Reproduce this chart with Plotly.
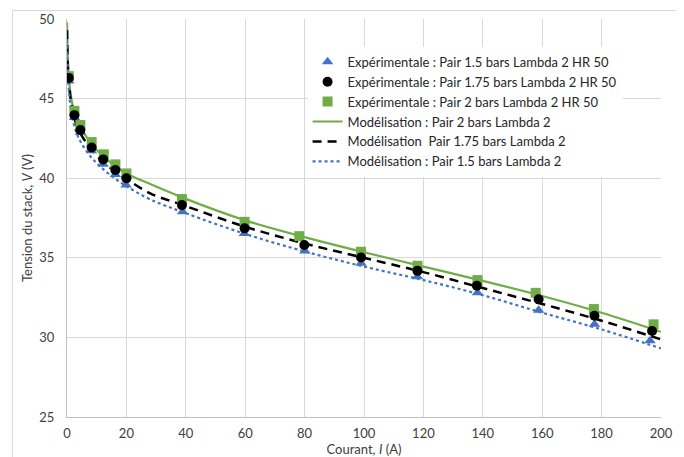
import plotly.graph_objects as go

# Experimental data
exp_15_x = [0.6, 2.5, 4.5, 8.2, 12.2, 16.3, 19.9, 38.9, 59.7, 80.1, 99.0, 118.0, 138.2, 158.8, 177.6, 196.3]
exp_15_v = [46.1, 43.82, 42.88, 41.72, 40.87, 40.24, 39.57, 37.89, 36.53, 35.42, 34.65, 33.81, 32.80, 31.71, 30.82, 29.79]

exp_175_x = [0.6, 2.5, 4.5, 8.3, 12.2, 16.3, 20.0, 38.7, 59.8, 79.9, 99.0, 118.0, 138.0, 158.8, 177.6, 197.0]
exp_175_v = [46.3, 43.96, 43.02, 41.93, 41.18, 40.51, 39.99, 38.31, 36.85, 35.80, 35.02, 34.18, 33.24, 32.39, 31.36, 30.40]

exp_2_x = [0.6, 2.5, 4.5, 8.3, 12.4, 16.3, 20.0, 38.7, 59.8, 78.2, 99.0, 118.0, 138.2, 157.8, 177.4, 197.5]
exp_2_v = [46.41, 44.23, 43.34, 42.27, 41.50, 40.87, 40.30, 38.69, 37.26, 36.36, 35.38, 34.50, 33.60, 32.80, 31.78, 30.82]

# Model curves
mod_x = [0.02, 0.2, 0.5, 1, 2, 4, 8, 12, 16, 20, 28, 40, 60, 80, 100, 120, 140, 160, 180, 200]
mod_2_v = [49.8, 48.0, 46.6, 45.6, 44.5, 43.4, 42.2, 41.4, 40.8, 40.3, 39.63, 38.7, 37.35, 36.3, 35.35, 34.45, 33.55, 32.6, 31.55, 30.35]
mod_175_v = [49.3, 47.6, 46.3, 45.3, 44.1, 43.0, 41.85, 41.05, 40.45, 39.95, 39.05, 38.25, 36.95, 35.9, 35.0, 34.1, 33.1, 32.1, 31.05, 29.87]
mod_15_v = [48.7, 47.2, 45.9, 44.8, 43.6, 42.5, 41.35, 40.6, 40.0, 39.5, 38.67, 37.8, 36.5, 35.4, 34.45, 33.6, 32.65, 31.55, 30.5, 29.31]

x_ticks = [0, 20, 40, 60, 80, 100, 120, 140, 160, 180, 200]
y_ticks = [25, 30, 35, 40, 45, 50]

BLUE = "#4472C4"
GREEN = "#70AD47"
BLACK = "#000000"
FONT = "Lato"

fig = go.Figure()

fig.add_trace(go.Scatter(x=mod_x, y=mod_2_v, mode="lines", line=dict(color=GREEN, width=2.2, shape="spline"),
                         name="Modélisation : Pair 2 bars Lambda 2", legendrank=4))
fig.add_trace(go.Scatter(x=mod_x, y=mod_175_v, mode="lines", line=dict(color=BLACK, width=2.5, dash="9px,6px", shape="spline"),
                         name="Modélisation  Pair 1.75 bars Lambda 2", legendrank=5))
fig.add_trace(go.Scatter(x=mod_x, y=mod_15_v, mode="lines", line=dict(color=BLUE, width=2.2, dash="dot", shape="spline"),
                         name="Modélisation : Pair 1.5 bars Lambda 2", legendrank=6))

fig.add_trace(go.Scatter(x=exp_15_x, y=exp_15_v, mode="markers",
                         marker=dict(symbol="triangle-up", color=BLUE, size=10),
                         name="Expérimentale : Pair 1.5 bars Lambda 2 HR 50", legendrank=1))
fig.add_trace(go.Scatter(x=exp_2_x, y=exp_2_v, mode="markers",
                         marker=dict(symbol="square", color=GREEN, size=10),
                         name="Expérimentale : Pair 2 bars Lambda 2 HR 50", legendrank=3))
fig.add_trace(go.Scatter(x=exp_175_x, y=exp_175_v, mode="markers",
                         marker=dict(symbol="circle", color=BLACK, size=10),
                         name="Expérimentale : Pair 1.75 bars Lambda 2 HR 50", legendrank=2))

# page has an 8px body margin: figure coordinates = screen - 8
L, R, T, B = 58.5, 684 - 653.5, 11, 457 - 408.7
PW, PH = 595, 408.7 - 11

fig.update_layout(
    width=684, height=457,
    margin=dict(l=L, r=R, t=T, b=B, autoexpand=False),
    paper_bgcolor="white", plot_bgcolor="white",
    font=dict(family=FONT, size=13, color="#404040"),
    showlegend=True,
    legend=dict(x=0.405, y=0.93, xanchor="left", yanchor="top",
                bgcolor="rgba(255,255,255,1)", font=dict(family=FONT, size=13, color="#262626"),
                tracegroupgap=0, itemwidth=30),
    xaxis=dict(range=[0, 200], tickvals=x_ticks, showgrid=True, gridcolor="#D9D9D9", gridwidth=1,
               showline=True, linecolor="#BFBFBF", linewidth=1, zeroline=False, automargin=False,
               ticks="", ticklabelstandoff=4, tickfont=dict(size=13, color="#404040"),
               title=dict(text="Courant, <i>I</i> (A)", standoff=1, font=dict(size=13, color="#404040"))),
    yaxis=dict(range=[25, 50], tickvals=y_ticks, showgrid=True, gridcolor="#D9D9D9", gridwidth=1,
               showline=True, linecolor="#BFBFBF", linewidth=1, zeroline=False, automargin=False,
               ticks="", ticklabelstandoff=9, tickfont=dict(size=13, color="#404040"),
               title=dict(text="Tension du stack, <i>V</i> (V)", standoff=3, font=dict(size=13, color="#404040"))),
    shapes=[dict(type="rect", xref="paper", yref="paper",
                 x0=(4 - L) / PW, x1=(674 - L) / PW,
                 y0=-0.2, y1=(408.7 - 2.5) / PH,
                 line=dict(color="#D9D9D9", width=1), layer="below")],
)

fig.write_html("out.html")
